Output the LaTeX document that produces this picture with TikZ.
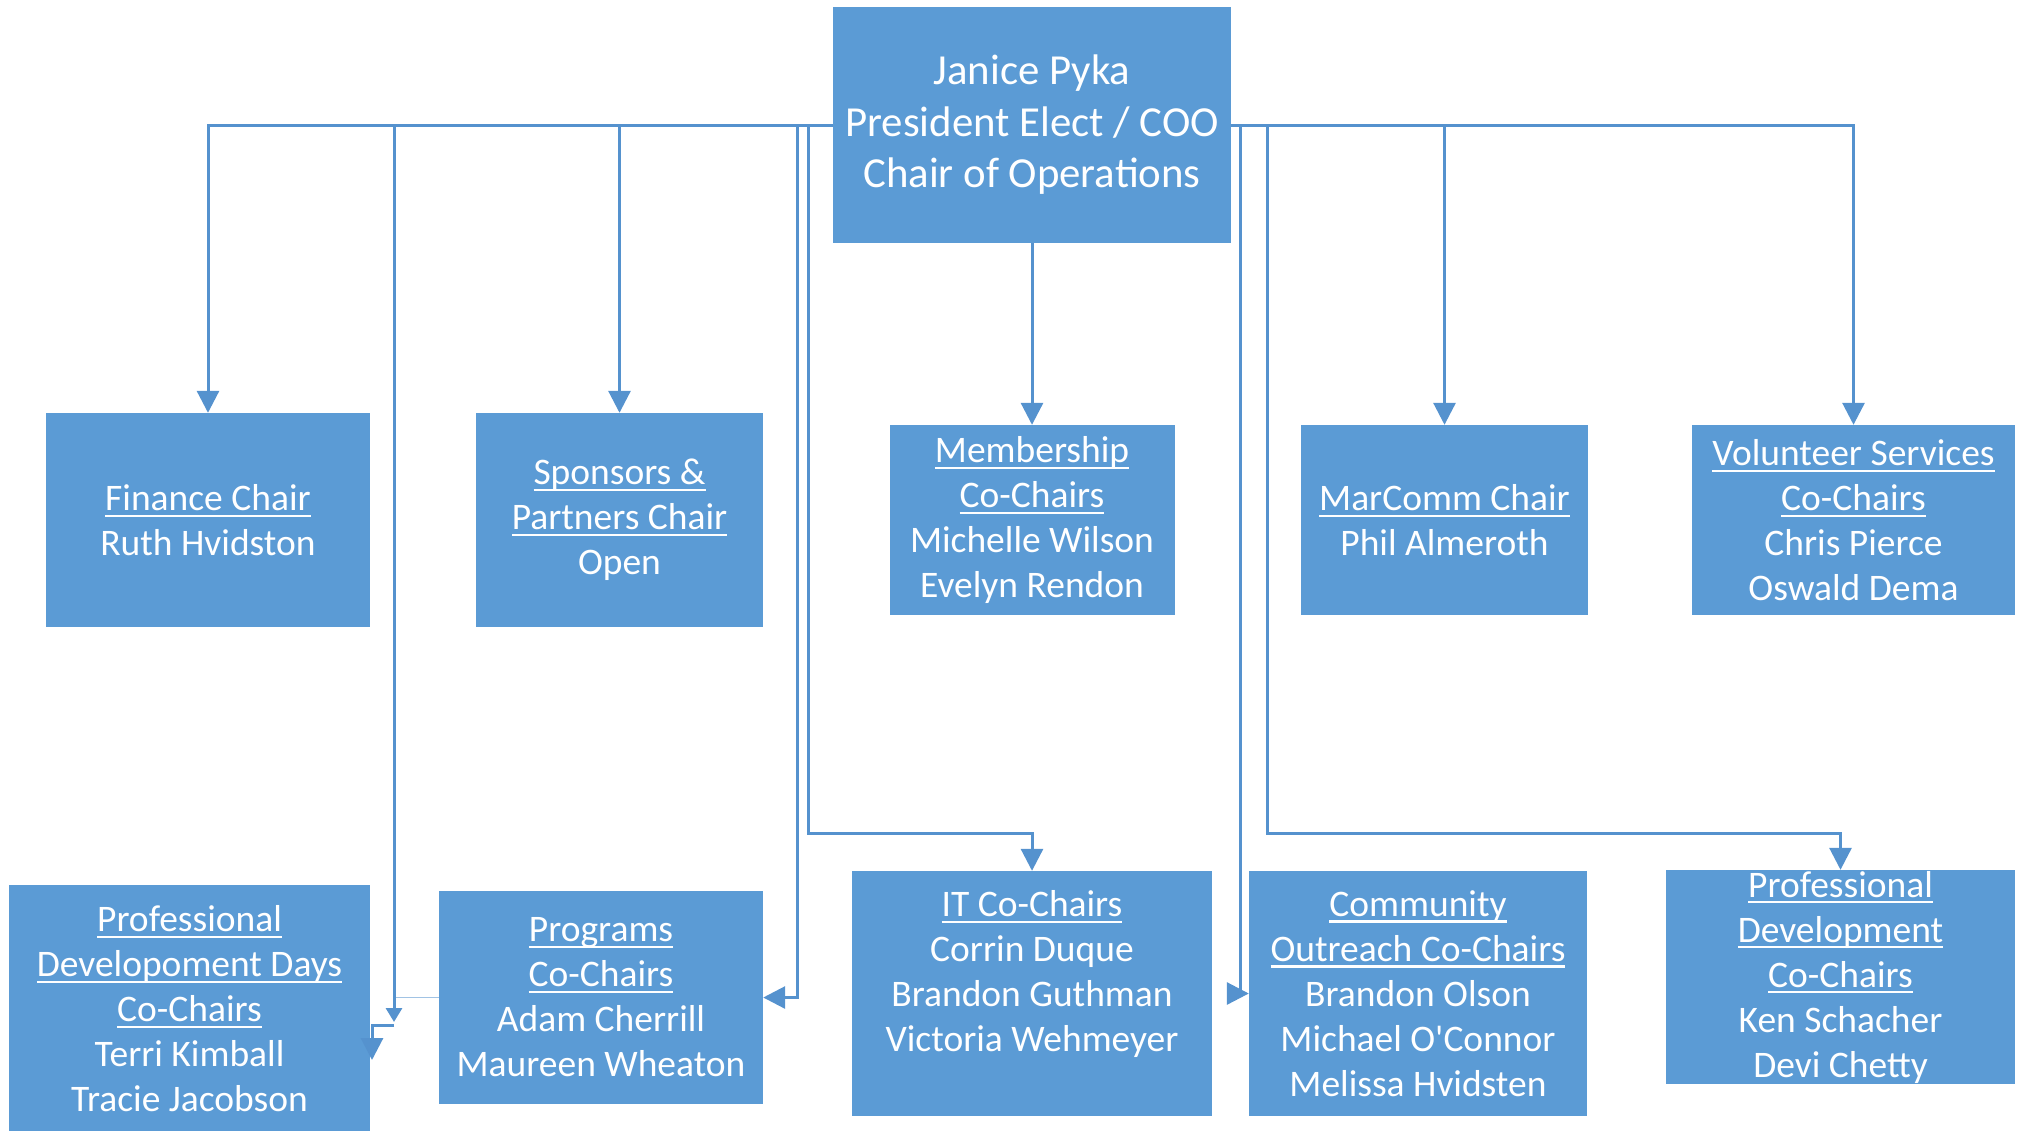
\documentclass[tikz,border=0pt]{standalone}
\usepackage{fontspec}
\setmainfont{Carlito}
\usepackage{tikz}
\usetikzlibrary{arrows.meta, positioning}
\usepackage{xcolor}
\definecolor{boxblue}{HTML}{5B9BD5}
\definecolor{lineblue}{HTML}{5592CE}
\newcommand{\uln}[1]{\leavevmode\setbox0=\hbox{#1}\rlap{\copy0}\rule[-0.17em]{\wd0}{2.2pt}}

\begin{document}
\begin{tikzpicture}[x=1pt,y=1pt,node distance=400pt,on grid,auto]
    \tikzstyle{head}=[shape=rectangle,fill=boxblue,text=white,inner sep=0pt,align=center,minimum width=398pt,minimum height=236pt,font=\fontsize{42.8}{51.5}\selectfont]
    \tikzstyle{chair}=[shape=rectangle,fill=boxblue,text=white,inner sep=0pt,align=center,font=\fontsize{37.5}{45}\selectfont]
    \tikzstyle{link}=[draw=lineblue,line width=3pt,-{Triangle[length=22pt,width=22pt]}]
    \tikzstyle{stub}=[draw=lineblue!55!white,line width=1.2pt]

    \useasboundingbox (0,0) rectangle (2017,-1130);

    \node[head] (P) at (1032,-125) {Janice Pyka\\President Elect / COO\\Chair of Operations};

    % first row
    \node[chair, minimum width=324pt, minimum height=214pt, below left=395pt and 824pt of P] (F) {\uln{Finance Chair}\\Ruth Hvidston};
    \node[chair, minimum width=287pt, minimum height=214pt, right=411.5pt of F] (S) {\uln{Sponsors \&}\\\uln{Partners Chair}\\Open};
    \node[chair, minimum width=285pt, minimum height=190pt, below=395pt of P] (M) {\uln{Membership}\\\uln{Co-Chairs}\\Michelle Wilson\\Evelyn Rendon};
    \node[chair, minimum width=287pt, minimum height=190pt, right=412.5pt of M] (K) {\uln{MarComm Chair}\\Phil Almeroth};
    \node[chair, minimum width=323pt, minimum height=190pt, right=409pt of K] (V) {\uln{Volunteer Services}\\\uln{Co-Chairs}\\Chris Pierce\\Oswald Dema};

    % second row
    \node[chair, minimum width=360pt, minimum height=245pt, below=868.5pt of P] (I) {\uln{IT Co-Chairs}\\Corrin Duque\\Brandon Guthman\\Victoria Wehmeyer\\\mbox{}};
    \node[chair, minimum width=338pt, minimum height=245pt, right=386pt of I] (C) {\uln{Community}\\\uln{Outreach Co-Chairs}\\Brandon Olson\\Michael O\textquotesingle Connor\\Melissa Hvidsten};
    \node[chair, minimum width=349pt, minimum height=214pt, above right=16.5pt and 422.5pt of C] (D) {\uln{Professional}\\\uln{Development}\\\uln{Co-Chairs}\\Ken Schacher\\Devi Chetty};
    \node[chair, minimum width=324pt, minimum height=213pt, below left=4pt and 431pt of I] (R) {\uln{Programs}\\\uln{Co-Chairs}\\Adam Cherrill\\Maureen Wheaton};
    \node[chair, minimum width=361pt, minimum height=247pt, below left=11pt and 411.5pt of R] (Q) {\uln{Professional}\\\uln{Developoment Days}\\\uln{Co-Chairs}\\Terri Kimball\\Tracie Jacobson};

    \coordinate (d1) at (394,-1022);
    \coordinate (d1b) at (394,-1025);
    \coordinate (d1c) at (372,-1060);
    \coordinate (d2) at (797,-997.5);
    \coordinate (d3) at (808,-833);
    \coordinate (d4) at (1240,-993.5);
    \coordinate (d5) at (1267,-833);
    \coordinate (d6) at (396,-997.5);

    \draw[link] (P.south) -- (M.north);
    \draw[link] (P.west) -| (F.north);
    \draw[link] (P.west) -| (S.north);
    \draw[link, -{Triangle[length=14pt,width=16pt]}] (P.west) -| (d1);
    \draw[link] (d1b) -| (d1c);
    \draw[link] (P.west) -| (d2) -- (R.east);
    \draw[link] (P.west) -| (d3) -| (I.north);
    \draw[link] (P.east) -| (K.north);
    \draw[link] (P.east) -| (V.north);
    \draw[link] (P.east) -| (d4) -- (C.west);
    \draw[link] (P.east) -| (d5) -| (D.north);
    \draw[stub] (d6) -- (R.west);

\end{tikzpicture}
\end{document}
